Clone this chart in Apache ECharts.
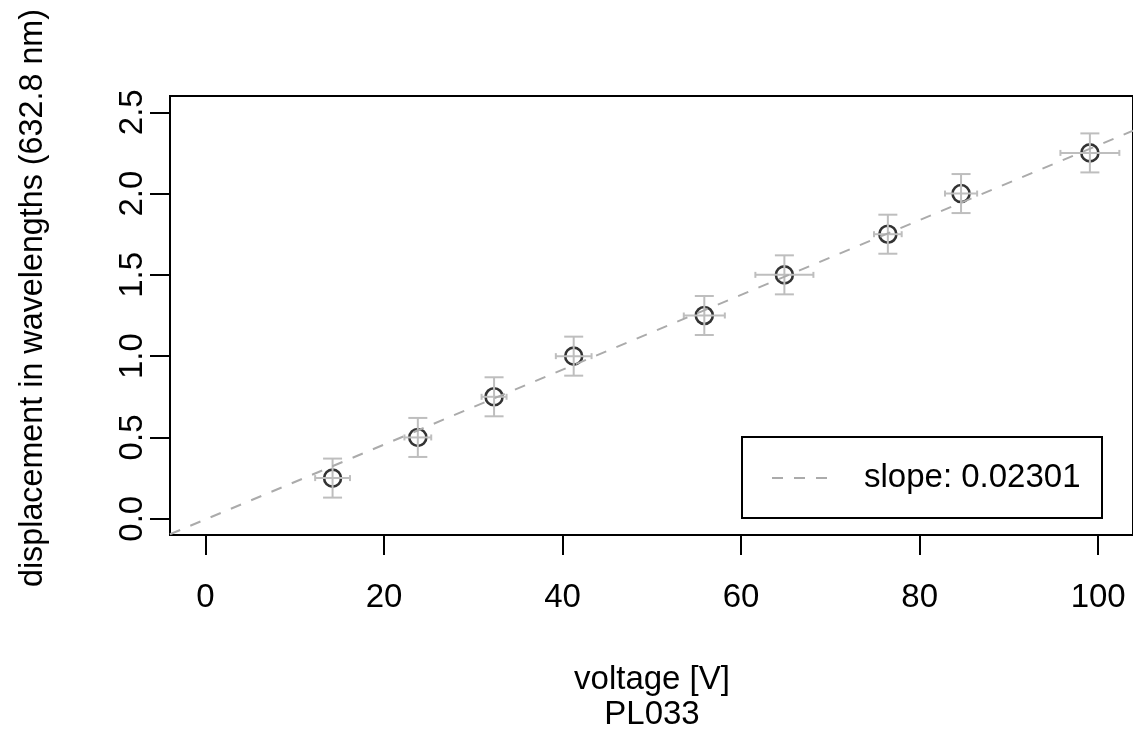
<!DOCTYPE html>
<html>
<head>
<meta charset="utf-8">
<script src="https://cdn.jsdelivr.net/npm/echarts@6/dist/echarts.min.js"></script>
<style>
  html, body { margin: 0; padding: 0; background: #fff; }
  #chart { width: 1133px; height: 735px; }
</style>
</head>
<body>
<div id="chart"></div>
<script>
// Measured voltage and fringe displacement, with uncertainties
const voltage = [14.24, 23.79, 32.33, 41.25, 55.88, 64.85, 76.44, 84.64, 99.07];
const displacement = [0.25, 0.5, 0.75, 1.0, 1.25, 1.5, 1.75, 2.0, 2.25];
const voltageErr = [1.95, 1.5, 1.4, 2.0, 2.3, 3.25, 1.55, 1.8, 3.3];
const displacementErr = [0.12, 0.12, 0.12, 0.12, 0.12, 0.12, 0.12, 0.12, 0.12];

// Linear fit
const fitSlope = 0.02301;
const fitIntercept = -0.004;

// Axis ranges and ticks
const xRange = [-3.97, 103.9];
const yRange = [-0.1, 2.6];
const xTicks = [0, 20, 40, 60, 80, 100];
const yTicks = [0, 0.5, 1.0, 1.5, 2.0, 2.5];

const FONT = 'Liberation Sans, Arial, Helvetica, sans-serif';
const FS = 33;
const GREY = '#BEBEBE';

const points = voltage.map((v, i) => [v, displacement[i]]);
const errRows = voltage.map((v, i) => [v, displacement[i], voltageErr[i], displacementErr[i]]);
const fitLine = xRange.map(x => [x, fitSlope * x + fitIntercept]);

const chart = echarts.init(document.getElementById('chart'), null, { renderer: 'canvas' });

function renderErrorBars(params, api) {
  const x = api.value(0), y = api.value(1), xe = api.value(2), ye = api.value(3);
  const top = api.coord([x, y + ye]);
  const bot = api.coord([x, y - ye]);
  const left = api.coord([x - xe, y]);
  const right = api.coord([x + xe, y]);
  const capY = 9.5, capX = 3;
  const style = { stroke: GREY, lineWidth: 2, fill: null };
  const seg = (x1, y1, x2, y2) => ({ type: 'line', shape: { x1, y1, x2, y2 }, style });
  return {
    type: 'group',
    children: [
      seg(top[0], top[1], bot[0], bot[1]),
      seg(top[0] - capY, top[1], top[0] + capY, top[1]),
      seg(bot[0] - capY, bot[1], bot[0] + capY, bot[1]),
      seg(left[0], left[1], right[0], right[1]),
      seg(left[0], left[1] - capX, left[0], left[1] + capX),
      seg(right[0], right[1] - capX, right[0], right[1] + capX)
    ]
  };
}

const option = {
  animation: false,
  backgroundColor: '#fff',
  grid: {
    left: 170, top: 96, right: -1, bottom: 200,
    show: true, borderColor: '#000', borderWidth: 2, backgroundColor: 'transparent'
  },
  xAxis: {
    type: 'value', min: xRange[0], max: xRange[1],
    axisLine: { show: true, onZero: false, lineStyle: { color: '#000', width: 2 } },
    axisTick: { show: true, customValues: xTicks, length: 20, lineStyle: { color: '#000', width: 2 } },
    axisLabel: {
      customValues: xTicks, margin: 46, color: '#000',
      fontFamily: FONT, fontSize: FS
    },
    splitLine: { show: false }
  },
  yAxis: {
    type: 'value', min: yRange[0], max: yRange[1],
    axisLine: { show: true, onZero: false, lineStyle: { color: '#000', width: 2 } },
    axisTick: { show: true, customValues: yTicks, length: 20, lineStyle: { color: '#000', width: 2 } },
    axisLabel: {
      customValues: yTicks, rotate: 90, margin: 21, color: '#000',
      fontFamily: FONT, fontSize: FS,
      formatter: v => v.toFixed(1)
    },
    splitLine: { show: false }
  },
  series: [
    {
      type: 'scatter', data: points, z: 2,
      symbol: 'circle', symbolSize: 17,
      itemStyle: { color: 'rgba(0,0,0,0)', borderColor: '#000', borderWidth: 2.6 }
    },
    {
      type: 'custom', data: errRows, z: 3,
      renderItem: renderErrorBars,
      encode: { x: 0, y: 1 }
    },
    {
      type: 'line', data: fitLine, z: 4,
      symbol: 'none', clip: true,
      lineStyle: { color: '#ABABAB', width: 2, type: [11, 11] }
    }
  ],
  graphic: [
    {
      type: 'text', x: 652, y: 680,
      style: { text: 'voltage [V]', font: FS + 'px ' + FONT, fill: '#000', align: 'center', verticalAlign: 'middle' }
    },
    {
      type: 'text', x: 652, y: 715,
      style: { text: 'PL033', font: FS + 'px ' + FONT, fill: '#000', align: 'center', verticalAlign: 'middle' }
    },
    {
      type: 'text', x: 33, y: 298, rotation: Math.PI / 2,
      style: { text: 'displacement in wavelengths (632.8 nm)', font: '32.3px ' + FONT, fill: '#000', align: 'center', verticalAlign: 'middle' }
    },
    {
      type: 'group', z: 100,
      children: [
        {
          type: 'rect', shape: { x: 742, y: 437, width: 360, height: 81 },
          style: { fill: '#fff', stroke: '#000', lineWidth: 2 }
        },
        {
          type: 'line', shape: { x1: 772, y1: 478, x2: 830, y2: 478 },
          style: { stroke: '#ABABAB', lineWidth: 2, lineDash: [11, 11] }
        },
        {
          type: 'text', x: 864, y: 478,
          style: { text: 'slope: ' + fitSlope.toFixed(5), font: FS + 'px ' + FONT, fill: '#000', align: 'left', verticalAlign: 'middle' }
        }
      ]
    }
  ]
};

chart.setOption(option);
</script>
</body>
</html>
